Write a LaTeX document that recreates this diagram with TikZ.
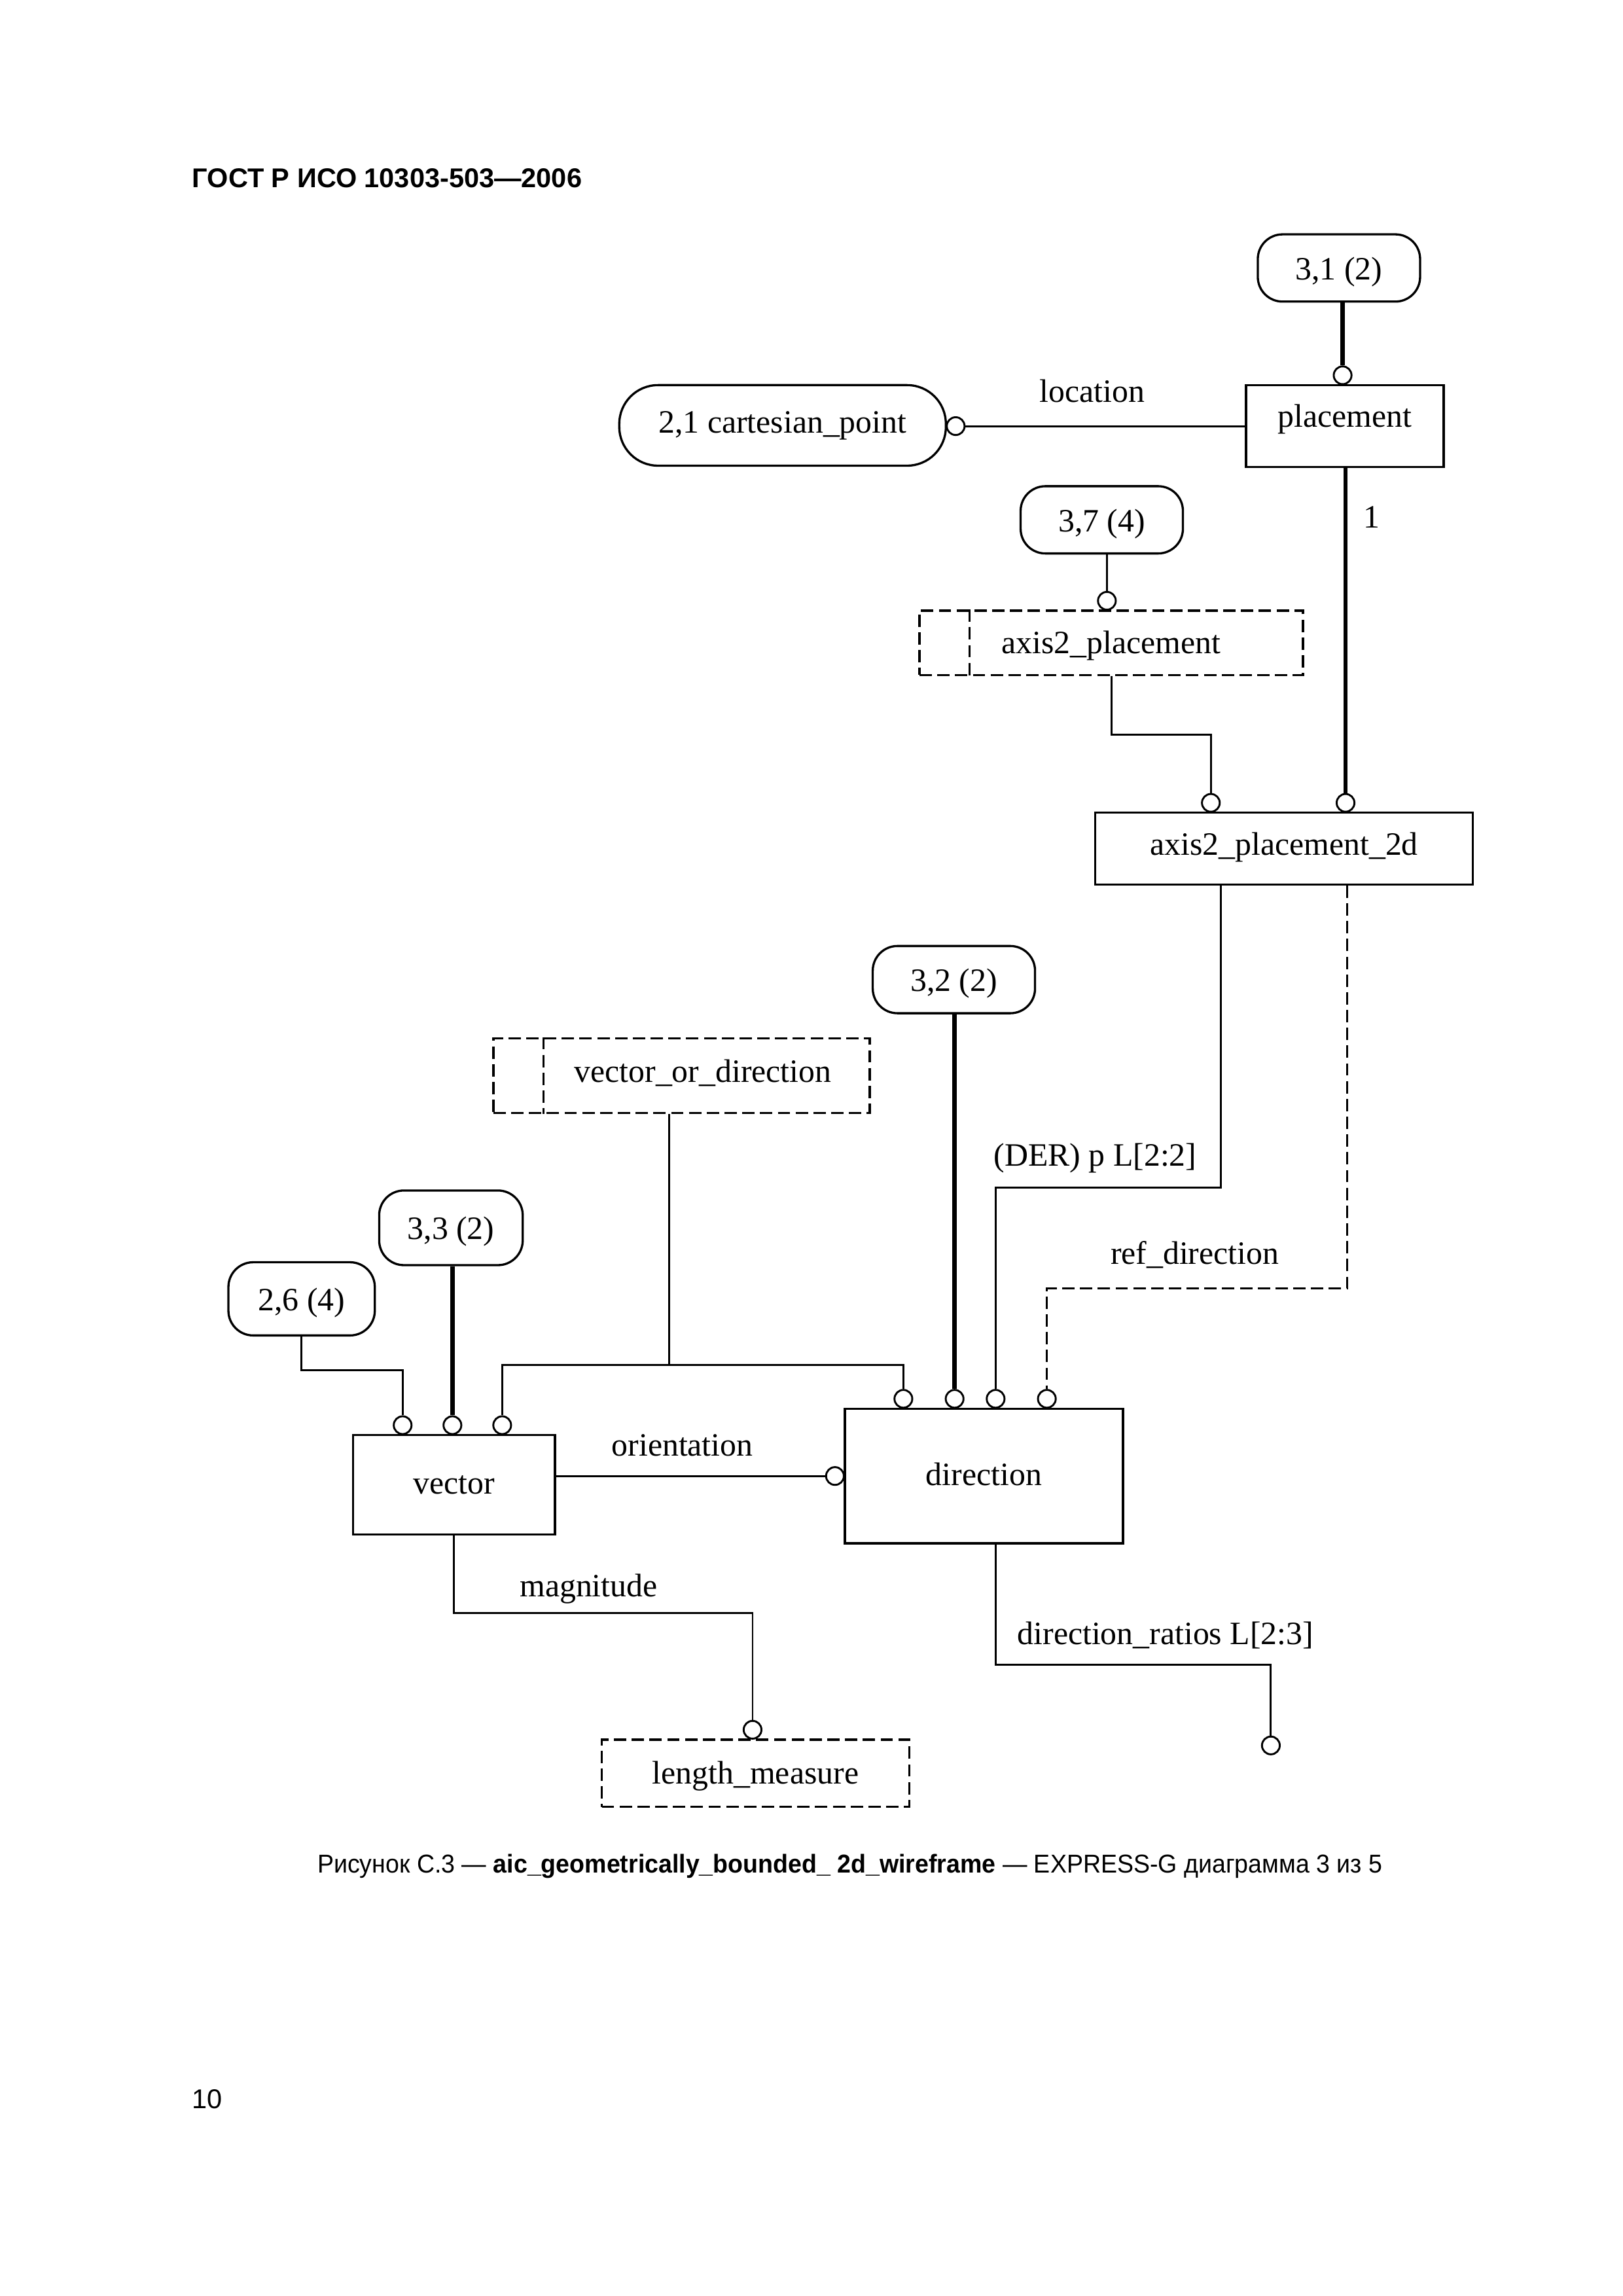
\documentclass[tikz,border=0pt]{standalone}
\usepackage{fontspec}
\setmainfont{Liberation Serif}
\newfontfamily\gostfont{Liberation Sans}
\newcommand{\nudge}[2]{\raisebox{#1}[\height][\depth]{#2}}

\tikzset{
  entity/.style={draw, line width=0.8pt, inner sep=0pt, font=\fontsize{12}{14}\selectfont},
  pageref/.style={entity, rounded corners=3.2mm},
  selbox/.style={entity, dash pattern=on 1.6mm off 0.7mm},
  ring/.style={circle, draw, line width=0.7pt, fill=white, minimum size=2.3mm, inner sep=0pt},
  rel/.style={line width=0.7pt},
  relthick/.style={line width=1.6pt},
  reldash/.style={rel, dash pattern=on 1.6mm off 0.7mm},
  role/.style={font=\fontsize{12}{14}\selectfont, inner sep=0pt}
}

\begin{document}
\begin{tikzpicture}[x=0.18944mm, y=-0.18944mm, line join=miter]
    \useasboundingbox (0,0) rectangle (1108.5,1568);
    % page header, caption, page number
    \node[anchor=base west, inner sep=0pt, font=\gostfont\bfseries\fontsize{10}{12}\selectfont] (hdr) at (131,128) {ГОСТ Р ИСО 10303-503—2006};
    \node[anchor=base, inner sep=0pt, font=\gostfont\fontsize{9.5}{12}\selectfont] (cap) at (580.5,1279)
        {\scalebox{0.952}[1]{Рисунок С.3 — \textbf{aic\_geometrically\_bounded\_ 2d\_wireframe} — EXPRESS-G диаграмма 3 из 5}};
    \node[anchor=base west, inner sep=0pt, font=\gostfont\fontsize{10}{12}\selectfont] (pgno) at (131,1440) {10};

    % entities and types
    \node[pageref, minimum width=21.0mm, minimum height=8.7mm] (ref31) at (914.5,183) {\nudge{-0.5mm}{3,1 (2)}};
    \node[entity, minimum width=25.57mm, minimum height=10.6mm] (placement) at (918.5,291) {\nudge{0.9mm}{placement}};
    \node[pageref, rounded corners=5mm, minimum width=42.25mm, minimum height=10.42mm] (cart) at (534.5,290.5) {2,1 cartesian\_point};
    \node[pageref, minimum width=21.0mm, minimum height=8.7mm] (ref37) at (752.5,355) {\nudge{-0.5mm}{3,7 (4)}};
    \node[selbox, minimum width=49.63mm, minimum height=8.34mm] (a2p) at (759,439) {\nudge{-0.4mm}{axis2\_placement}};
    \draw[reldash] ([xshift=6.63mm]a2p.north west) -- ([xshift=6.63mm]a2p.south west);
    \node[entity, minimum width=48.88mm, minimum height=9.28mm] (a2p2d) at (877,579.5) {\nudge{0.15mm}{axis2\_placement\_2d}};
    \node[pageref, minimum width=21.0mm, minimum height=8.7mm] (ref32) at (651.5,669) {\nudge{-0.5mm}{3,2 (2)}};
    \node[selbox, minimum width=48.69mm, minimum height=9.66mm] (vod) at (465.5,734.5) {\hspace*{5.5mm}\nudge{0.3mm}{vector\_or\_direction}};
    \draw[reldash] ([xshift=6.63mm]vod.north west) -- ([xshift=6.63mm]vod.south west);
    \node[pageref, minimum width=18.57mm, minimum height=9.66mm] (ref33) at (308,838.5) {\nudge{-0.5mm}{3,3 (2)}};
    \node[pageref, minimum width=18.94mm, minimum height=9.47mm] (ref26) at (206,887) {\nudge{-0.5mm}{2,6 (4)}};
    \node[entity, minimum width=26.14mm, minimum height=12.88mm] (vector) at (310,1014) {vector};
    \node[entity, minimum width=35.99mm, minimum height=17.43mm] (direction) at (672,1008) {\nudge{0.2mm}{direction}};
    \node[selbox, minimum width=39.78mm, minimum height=8.71mm] (lenmeas) at (516,1211) {\nudge{-0.35mm}{length\_measure}};

    % relationship ends
    \node[ring, anchor=south] (rpl) at (917,263) {};
    \node[ring, anchor=west] (rcart) at (646,291) {};
    \node[ring, anchor=south] (ra2p) at (756,417) {};
    \node[ring, anchor=south] (ra2d1) at (827,555) {};
    \node[ring, anchor=south] (ra2d2) at (919,555) {};
    \node[ring, anchor=south] (rdir1) at (617,962) {};
    \node[ring, anchor=south] (rdir2) at (652,962) {};
    \node[ring, anchor=south] (rdir3) at (680,962) {};
    \node[ring, anchor=south] (rdir4) at (715,962) {};
    \node[ring, anchor=south] (rvec1) at (275,980) {};
    \node[ring, anchor=south] (rvec2) at (309,980) {};
    \node[ring, anchor=south] (rvec3) at (343,980) {};
    \node[ring, anchor=east] (rorient) at (577,1008) {};
    \node[ring, anchor=south] (rlm) at (514,1188) {};
    \node[ring] (rdr) at (868,1192) {};

    % relationships
    \draw[relthick] (rpl.north) -- (rpl.north |- ref31.south);
    \draw[rel] (rcart.east) -- (rcart.east -| placement.west);
    \draw[relthick] (ra2d2.north) -- (ra2d2.north |- placement.south);
    \draw[rel] (ra2p.north) -- (ra2p.north |- ref37.south);
    \draw[rel] (a2p.south) -- ++(0,40) -| (ra2d1.north);
    \coordinate (derbend) at (834,811);
    \draw[rel] (a2p2d.south -| derbend) -- (derbend) -| (rdir3.north);
    \coordinate (refbend) at (920,880);
    \draw[reldash] (a2p2d.south -| refbend) -- (refbend) -| (rdir4.north);
    \draw[relthick] (rdir2.north) -- (rdir2.north |- ref32.south);
    \coordinate (vodjoin) at (457,932);
    \draw[rel] (vod.south -| vodjoin) -- (vodjoin);
    \draw[rel] (rdir1.north) |- (vodjoin) -| (rvec3.north);
    \draw[relthick] (rvec2.north) -- (rvec2.north |- ref33.south);
    \draw[rel] (ref26.south) -- ++(0,23) -| (rvec1.north);
    \draw[rel] (vector.east |- rorient.west) -- (rorient.west);
    \draw[rel] (vector.south) -- ++(0,53) -| (rlm.north);
    \coordinate (drbend) at (680,1137);
    \draw[rel] (direction.south -| drbend) -- (drbend) -| (rdr.north);

    % role names
    \node[role] (lloc) at (746,267) {location};
    \node[role] (lone) at (937,353) {1};
    \node[role] (lder) at (748,791) {(DER) p L[2:2]};
    \node[role] (lref) at (816,857) {ref\_direction};
    \node[role] (lori) at (466,987) {orientation};
    \node[role] (lmag) at (402,1085) {magnitude};
    \node[role] (ldr) at (796,1117) {direction\_ratios L[2:3]};
\end{tikzpicture}
\end{document}
